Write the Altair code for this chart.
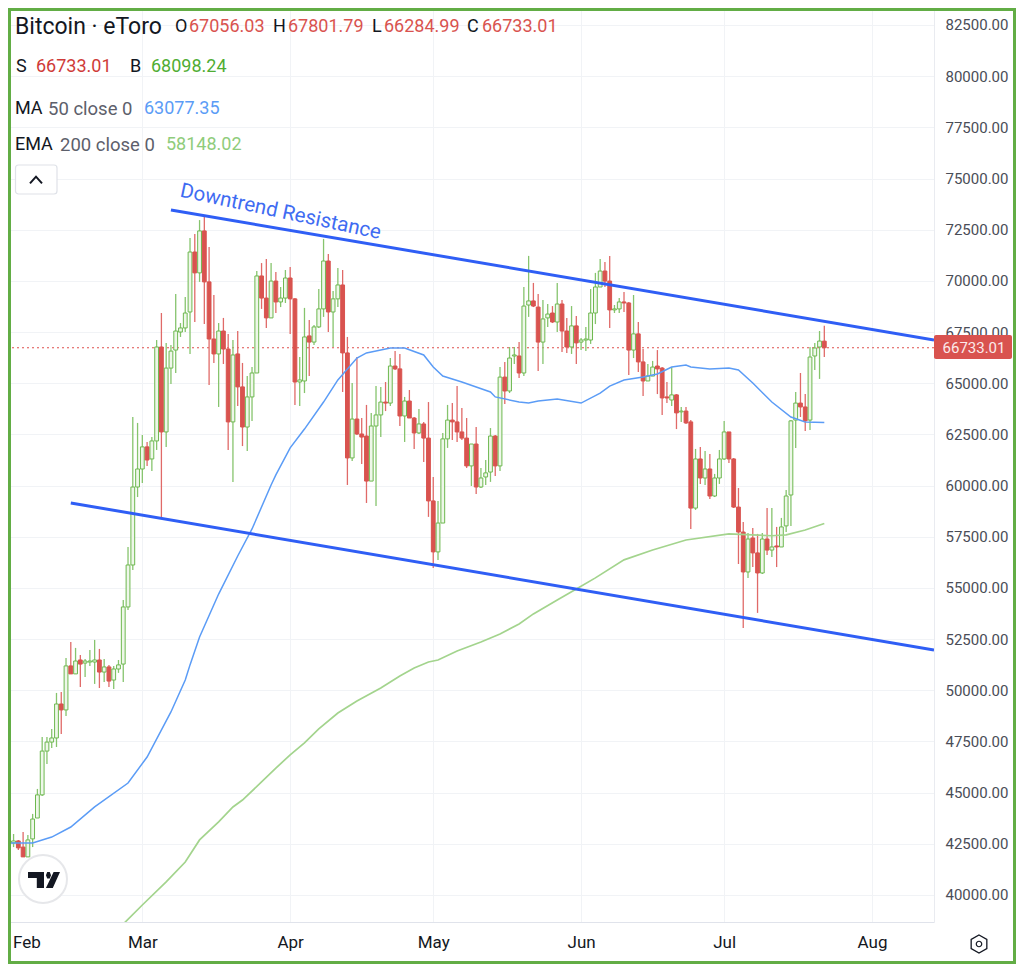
import altair as alt
import pandas as pd

FONT = "Roboto"
INK = "#131722"
GREY = "#5d606b"
RED = "#d9534f"
GREEN = "#6db84f"
FRAME = "#62ad45"
TREND = "#2f5ef5"
MA_C = "#5b9cf6"
EMA_C = "#a3d48d"

opens = [
 42640,42540,42640,42340,41860,42740,43760,44890,47030,47470,47670,49330,49040,51190,50800,51480,51330,51380,51380,51480,50890,51140,50500,51040,51280,54070,56120,59930,
 60810,61890,61300,62180,66770,62620,65740,66620,67500,67700,68480,71410,70390,72440,69950,67160,66430,67550,66670,63110,66430,64820,62860,64330,65500,70240,69160,68190,69990,68970,69160,
 70140,69120,65060,65110,67310,67010,67750,68630,70970,68480,69120,69800,66480,61350,63250,62520,62420,60220,62910,63450,64080,64030,65840,65700,63400,64130,63300,62570,63010,62320,
 59250,56760,58170,62280,63200,63110,62620,62320,60960,62030,59930,60420,60660,62420,60960,65300,64620,66330,66330,65500,68820,69020,68720,67010,68190,68430,67990,68870,67550,66770,67800,
 67010,67110,67110,68430,69700,70480,69990,68580,68630,68970,68920,66620,67410,66040,65110,65350,65840,65740,64330,64180,64430,63600,63640,63110,58900,61300,60370,60810,59490,60370,
 61300,62620,61300,58950,57730,55780,57440,56710,55730,57390,56850,57050,57000,58030,59540,63200,64030,63840,63200,66330,66770,67056.03,
]
highs = [
 43080,42980,42690,43080,42930,43960,45180,47720,47720,48110,49870,49920,51580,52360,52070,51720,51530,51970,52460,52020,51530,51240,51190,51480,54410,57000,63350,63060,
 62470,62130,62370,67110,68430,66970,66870,69360,67940,69210,72090,72290,72970,73120,71650,69310,67940,68190,67410,67110,67550,65990,65350,65790,70480,70870,71070,70870,70430,69700,70530,
 70680,69160,66280,68680,68090,67850,69600,72050,71310,69510,70630,70530,67260,65010,66280,63300,63940,63550,64860,64820,65060,66230,66570,66430,64330,64670,63350,63740,63110,64080,
 60420,59250,62570,63940,64030,64860,63790,63300,62030,62860,60860,61250,62810,62470,65790,66040,66770,66770,67010,69700,71220,69900,69360,69070,68870,68770,69900,69070,68190,68770,68280,
 67210,67750,69600,70390,71070,70920,71220,68820,69160,69460,68970,69310,67990,66670,65940,66090,66620,65790,65060,65790,64470,63840,63840,63200,61790,61890,61690,61540,60570,61740,
 63160,62620,61350,59880,58220,57680,57930,57640,57680,58900,58900,57980,58420,59780,63200,64570,65500,64470,66770,66970,67550,67801.79,
]
lows = [
 42150,42340,42200,41860,41860,42340,43760,44840,46400,47180,47230,47870,48740,50800,50800,50160,50650,51190,50310,50110,50410,50160,50060,50850,50410,53920,55880,59440,
 60130,60960,60710,61740,58420,61890,64960,65500,67260,67500,66430,67990,69950,67890,64910,65990,63840,65940,61740,60180,63890,61930,61690,63160,65500,68630,67700,68190,68430,68720,68920,
 67410,63940,63890,64520,65350,66870,67700,68240,67500,66770,68720,64570,60030,61200,62470,61050,59150,60220,59000,62370,63640,63890,65650,62910,62130,63300,61790,62520,61150,58470,
 55970,56370,58170,61840,62230,62130,62230,60860,59980,59590,59880,60030,60180,60470,60710,63990,64520,65940,65260,65350,68240,68720,65600,65940,67750,67940,67500,66530,66480,66430,65940,
 66620,66570,66920,67890,69700,69700,67700,68430,68430,68480,65400,66230,65550,64380,65110,65350,64470,63450,64030,63890,62760,63110,63010,57880,58810,60080,60030,59350,59440,60080,
 61250,61100,58900,56170,53040,55490,56020,53780,55680,56610,56510,56020,57000,57730,58030,61840,63350,62670,62720,65650,65210,66284.99,
]
closes = [
 42490,42640,42300,41860,42690,43710,44890,47030,47470,47670,49330,49040,51190,50800,51430,51280,51430,51430,51480,50890,51140,50450,51040,51240,54070,56120,59930,60810,
 61890,61250,62180,66770,62620,65740,66570,67550,67700,68430,71410,70390,72440,69950,67160,66430,67550,66670,63110,66380,64820,62860,64330,65500,70240,69160,68190,69990,68970,69160,70140,
 69120,65060,65160,67260,67010,67750,68630,70970,68480,69120,69800,66480,61350,63250,62520,62370,60220,62910,63450,64080,64030,65840,65700,63400,64130,63300,62570,63010,62320,59250,
 56760,58170,62280,63200,63110,62620,62320,60960,62030,59930,60370,60620,62420,60960,65300,64620,66230,66380,65500,68770,69020,68770,67010,68140,68380,67990,68870,67550,66770,67800,66970,
 67110,67160,68430,69700,70480,69990,68580,68630,68970,68920,66620,67410,66040,65110,65350,65790,65700,64280,64280,64430,63550,63640,63060,58900,61300,60370,60810,59490,60370,61300,
 62620,61300,58950,57730,55780,57390,56710,55730,57390,56850,57000,57000,57980,59490,63160,64030,63840,63160,66280,66720,67060,66733.01,
]
dates = list(pd.date_range("2024-02-02", periods=len(closes)).strftime("%Y-%m-%dT00:00:00Z"))

ma_dates = ["02-02","02-07","02-11","02-15","02-20","02-27","03-02","03-07","03-10","03-11","03-13","03-17","03-21","03-24","03-28","03-29",
            "04-01","04-04","04-08","04-11","04-15","04-17","04-22","04-25","04-29","05-01","05-03","05-07","05-13","05-14","05-19",
            "05-21","05-23","05-27","06-01","06-05","06-07","06-10","06-14","06-17","06-20","06-23","06-24","06-28","07-02","07-04",
            "07-07","07-11","07-15","07-18","07-22"]
ma_vals = [42540,42540,42830,43320,44300,45470,46740,48940,50500,51240,52600,54700,56560,57880,60030,60520,
           61840,62760,64080,65160,66230,66480,66720,66720,66380,65790,65350,65060,64570,64330,64080,
           64030,64130,64230,64030,64520,64860,65160,65300,65450,65790,65890,65790,65700,65740,65650,
           65010,64080,63350,63110,63077.35]
ema_dates = ["02-26","03-01","03-06","03-10","03-13","03-17","03-20","03-22","03-26","03-29","04-01","04-04","04-07","04-11","04-15",
             "04-20","04-24","04-27","04-30","05-02","05-06","05-11","05-15","05-19","05-22","05-27","05-31","06-04","06-10","06-16",
             "06-23","07-02","07-11","07-14","07-18","07-22"]
ema_vals = [38580,39510,40640,41610,42690,43570,44300,44640,45520,46200,46840,47430,48110,48890,49480,
            50110,50700,51090,51380,51480,51920,52360,52750,53240,53730,54410,54950,55490,56370,56850,
            57340,57640,57550,57590,57830,58148.02]

upper_dates = ["2024-03-07T00:00:00Z", "2024-08-14T00:00:00Z"]
upper_vals = [73460, 67110]
lower_dates = ["2024-02-15T00:00:00Z", "2024-08-14T00:00:00Z"]
lower_vals = [59150, 51970]

last_price = 66733.01
tag_top, tag_bottom = 67360, 66180
y_ticks = list(range(40000, 82501, 2500))
month_ticks = ["2024-%02d-01T00:00:00Z" % m for m in range(3, 9)]
x_domain = ["2024-02-01T20:00:00Z", "2024-08-14T00:00:00Z"]
y_domain = [38680, 83330]

def full(ds):
    return ["2024-%sT00:00:00Z" % d for d in ds]

xs = alt.Scale(type="utc", domain=x_domain, nice=False, padding=0)
ys = alt.Scale(type="linear", domain=y_domain, nice=False, zero=False, padding=0)
x_axis = alt.Axis(
    values=month_ticks, format="%b", title=None, grid=True, gridColor="#f1f3f6", gridWidth=1,
    ticks=False, domainColor="#e0e3eb", domainWidth=1, labelFont=FONT, labelFontSize=17, labelColor=INK,
    labelPadding=12, labelFlush=False, labelOverlap=False, labelBound=False)
y_axis = alt.Axis(
    orient="right", values=y_ticks, format=".2f", title=None, grid=True, gridColor="#f1f3f6", gridWidth=1,
    ticks=False, domainColor="#e9ebf0", domainWidth=1, labelFont=FONT, labelFontSize=15, labelColor="#4a4d57",
    labelPadding=11, labelFlush=False, labelOverlap=False)
X = lambda f: alt.X(f, type="temporal", scale=xs, axis=x_axis)
Y = lambda f: alt.Y(f, type="quantitative", scale=ys, axis=y_axis)

candles = pd.DataFrame({"d": dates, "o": opens, "h": highs, "l": lows, "c": closes})
candles["dir"] = ["up" if c >= o else "down" for o, c in zip(opens, closes)]

wick_col = alt.Color("dir:N", scale=alt.Scale(domain=["up", "down"], range=["#86c46d", "#e06a68"]), legend=None)
body_fill = alt.Fill("dir:N", scale=alt.Scale(domain=["up", "down"], range=["#eef7e9", RED]), legend=None)
body_stroke = alt.Stroke("dir:N", scale=alt.Scale(domain=["up", "down"], range=[GREEN, RED]), legend=None)

wicks = alt.Chart(candles).mark_rule(strokeWidth=1.3).encode(x=X("d"), y=Y("l"), y2="h", color=wick_col)
bodies = alt.Chart(candles).mark_bar(size=3.8, strokeWidth=1, opacity=1).encode(x=X("d"), y=Y("o"), y2="c", fill=body_fill, stroke=body_stroke)

def series(ds, vs, color, width):
    return alt.Chart(pd.DataFrame({"d": ds, "v": vs})).mark_line(color=color, strokeWidth=width, clip=True).encode(x=X("d"), y=Y("v"))

ma_line = series(full(ma_dates), ma_vals, MA_C, 1.5)
ema_line = series(full(ema_dates), ema_vals, EMA_C, 1.7)
upper = series(upper_dates, upper_vals, TREND, 3)
lower = series(lower_dates, lower_vals, TREND, 3)

price_line = alt.Chart(pd.DataFrame({"v": [last_price]})).mark_rule(color="#e0504c", strokeWidth=1.2, strokeDash=[2, 3]).encode(y=Y("v"))

trend_label = alt.Chart(pd.DataFrame({"d": ["2024-03-30T00:00:00Z"], "v": [73370], "t": ["Downtrend Resistance"]})).mark_text(
    font=FONT, fontSize=20.5, color="#3f6cf2", angle=12, align="center", baseline="middle").encode(x=X("d"), y=Y("v"), text="t:N")

feb_label = alt.Chart(pd.DataFrame({"t": ["Feb"]})).mark_text(
    font=FONT, fontSize=17, color=INK, align="left", baseline="middle").encode(x=alt.value(5), y=alt.value(935), text="t:N")

tag = alt.Chart(pd.DataFrame({"a": [tag_top], "b": [tag_bottom]})).mark_rect(color="#d9534f", cornerRadius=2).encode(
    x=alt.value(926), x2=alt.value(1004), y=Y("a"), y2="b")
tag_text = alt.Chart(pd.DataFrame({"v": [last_price], "t": ["66733.01"]})).mark_text(
    font=FONT, fontSize=15, color="#fbeaea", align="center", baseline="middle").encode(x=alt.value(966), y=Y("v"), text="t:N")

def label(text, px, py, color, size=18):
    return alt.Chart(pd.DataFrame({"t": [text]})).mark_text(
        font=FONT, fontSize=size, color=color, align="left", baseline="middle").encode(
        x=alt.value(px - 8), y=alt.value(py - 8), text="t:N")

labels = [
    label("Bitcoin · eToro", 15, 27, INK, 23),
    label("O", 175, 27, INK), label("67056.03", 189, 27, RED),
    label("H", 273, 27, INK), label("67801.79", 288, 27, RED),
    label("L", 372, 27, INK), label("66284.99", 384, 27, RED),
    label("C", 467, 27, INK), label("66733.01", 482, 27, RED),
    label("S", 16, 67, INK), label("66733.01", 36, 67, "#cf3b38"),
    label("B", 130, 67, INK), label("68098.24", 151, 67, "#4fad33"),
    label("MA", 15, 109, INK), label("50 close 0", 48, 109, GREY, 18.5), label("63077.35", 144, 109, MA_C),
    label("EMA", 15, 145, INK), label("200 close 0", 60, 145, GREY, 18.5), label("58148.02", 166, 145, "#8fcc7b"),
]

def box(x0, x1, y0, y1, **kw):
    return alt.Chart(pd.DataFrame({"k": [0]})).mark_rect(**kw).encode(
        x=alt.value(x0 - 8), x2=alt.value(x1 - 8), y=alt.value(y0 - 8), y2=alt.value(y1 - 8))

def glyph(px, py, shape, size, **kw):
    return alt.Chart(pd.DataFrame({"k": [0]})).mark_point(shape=shape, size=size, **kw).encode(
        x=alt.value(px - 8), y=alt.value(py - 8))

button = box(15.5, 57, 165, 194, fill="#ffffff", stroke="#dfe2e8", strokeWidth=1.2, cornerRadius=3)
caret = glyph(36, 180, "M-1,0.55 L0,-0.55 L1,0.55", 144, filled=False, stroke=INK, strokeWidth=2, opacity=1)

logo_ring = glyph(43, 879, "circle", 2304, filled=True, fill="#ffffff", stroke="#e6e7ea", strokeWidth=2, opacity=1)
logo = glyph(44, 880,
             "M-1,-0.5 L0,-0.5 L0,0.5 L-0.45,0.5 L-0.45,-0.12 L-1,-0.12 Z "
             "M0.12,-0.3 L0.2,-0.5 L0.36,-0.5 L0.44,-0.3 L0.36,-0.1 L0.2,-0.1 Z "
             "M0.6,-0.5 L1,-0.5 L0.55,0.5 L0.12,0.5 Z",
             1024, filled=True, fill=INK, stroke=INK, strokeWidth=0, opacity=1)

hexagon = glyph(979, 944, "M0,-1 L0.87,-0.5 L0.87,0.5 L0,1 L-0.87,0.5 L-0.87,-0.5 Z", 324, filled=False, stroke=INK, strokeWidth=1.3, opacity=1)
hex_dot = glyph(979, 944, "circle", 30, filled=False, stroke=INK, strokeWidth=1.2, opacity=1)

frame = alt.Chart(pd.DataFrame({"k": [0]})).mark_rect(fillOpacity=0, stroke=FRAME, strokeWidth=3).encode(
    x=alt.value(1.5), x2=alt.value(1006.5), y=alt.value(1.5), y2=alt.value(954.5))

chart = alt.layer(
    price_line, wicks, bodies, ema_line, ma_line, upper, lower, trend_label, feb_label, tag, tag_text,
    *labels, button, caret, logo_ring, logo, hexagon, hex_dot, frame,
).properties(
    width=926, height=914, background="#ffffff",
    autosize=alt.AutoSizeParams(type="none"),
    padding={"left": 0, "top": 0, "right": 82, "bottom": 43},
).configure_view(stroke=None)

chart.save("out.html", embed_options={"renderer": "svg", "actions": False})
